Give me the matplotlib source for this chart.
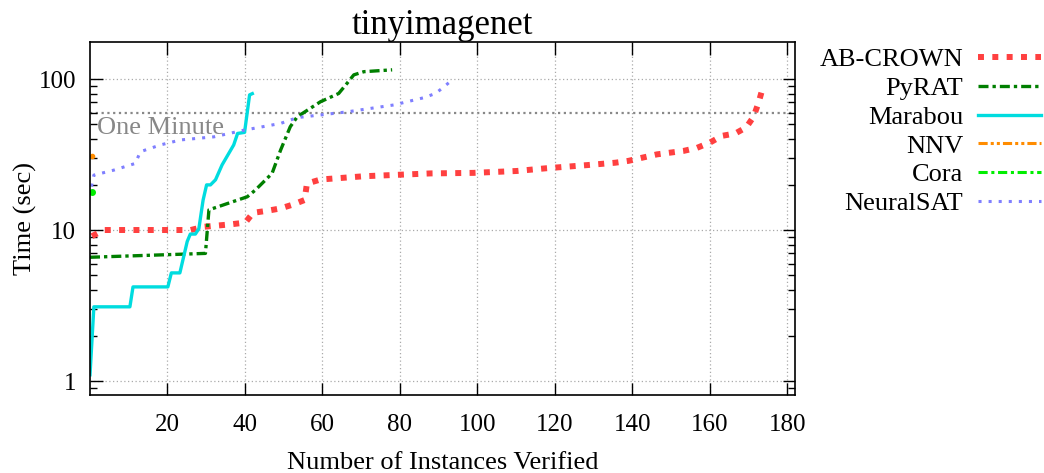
import matplotlib
matplotlib.use("Agg")
import matplotlib.pyplot as plt

plt.rcParams['font.family'] = ['Liberation Serif', 'DejaVu Serif']

# data (instances verified vs. cumulative time)
abcrown_x = [0.5, 3.6, 26, 29.3, 36.3, 40.1, 42.1, 45.7, 49.2, 52.6, 55.4, 56, 59.5, 70.7,
             87.9, 99, 110.2, 117.5, 128.3, 135.6, 139, 142.5, 146.4, 153.2, 156.7, 160.1,
             163.1, 166.6, 169.4, 171.3, 172.6, 173.5]
abcrown_y = [9.1, 10, 10, 10.5, 10.9, 11.2, 13.0, 13.4, 13.9, 14.8, 15.8, 20.3, 21.6, 22.7,
             23.7, 23.9, 24.6, 25.6, 26.9, 27.9, 28.7, 30.1, 31.7, 33.4, 35.0, 38.0,
             42.0, 43.6, 47.8, 56.2, 69.8, 84.3]

pyrat_x = [0, 29.8, 30.7, 40.6, 42.7, 47, 49.2, 51.7, 53.5, 59.5, 64.2, 66.4, 68.1, 70.7, 78]
pyrat_y = [6.6, 7.0, 13.6, 16.6, 18.4, 23.7, 33.8, 48.3, 56.2, 70.7, 80.2, 93.9, 106.5, 111.8, 115]

marabou_x = [0, 1, 10.3, 11.1, 20.1, 21, 23.2, 25.1, 25.9, 27.2, 28.1, 29.2, 30.1, 31.1,
             32.4, 34.1, 37.1, 38.1, 39.9, 41.2, 41.9]
marabou_y = [1.1, 3.1, 3.1, 4.2, 4.2, 5.2, 5.2, 8.4, 9.4, 9.4, 10.2, 15.8, 19.9, 19.9,
             21.5, 27, 36.6, 43.6, 44.3, 78.5, 80]

nnv_x = [0.4]
nnv_y = [30.9]

cora_x = [0.4]
cora_y = [17.9]

neuralsat_x = [0.4, 1, 6.1, 11.7, 13, 18.2, 23.4, 32, 39.7, 49.2, 53.5, 66.4, 78.4,
               86.1, 89.2, 90.9, 93.5]
neuralsat_y = [19.4, 23.1, 24.9, 27.6, 33, 36.6, 39.5, 41.4, 45.8, 50.8, 55.5, 60.6, 67.3,
               75.1, 80.2, 86.8, 98.6]

one_minute = 60

fig = plt.figure(figsize=(10.44, 4.73), dpi=100)
ax = fig.add_axes([90 / 1044, 78 / 473, 705 / 1044, 353 / 473])

ax.plot(abcrown_x, abcrown_y, color='#FF4040', lw=4.3, ls=(0, (1, 1.4)),
        dash_capstyle='butt', label='AB-CROWN')
ax.plot(pyrat_x, pyrat_y, color='#007F00', lw=2.4, ls=(0, (3, 1.2, 1, 1.2)),
        label='PyRAT')
ax.plot(marabou_x, marabou_y, color='#00DCDF', lw=2.4, label='Marabou')
ax.plot(nnv_x, nnv_y, color='#FF8C00', lw=2.2, ls=(0, (3, 1, 1, 1, 1, 1)), label='NNV')
ax.plot(nnv_x, nnv_y, color='#FF8C00', ls='none', marker='o', ms=3)
ax.plot(cora_x, cora_y, color='#00EE00', lw=2.2, ls=(0, (3, 1.2, 1, 1.2)), label='Cora')
ax.plot(cora_x, cora_y, color='#00EE00', ls='none', marker='o', ms=4)
ax.plot(neuralsat_x, neuralsat_y, color='#7F7FFF', lw=2.2, ls=(0, (1, 2.3)),
        dash_capstyle='butt', label='NeuralSAT')

ax.axhline(one_minute, color='#888888', lw=1.6, ls=(0, (1, 1.6)), zorder=1)
ax.text(1.8, 56, 'One Minute', color='#888888', fontsize=19, va='top', ha='left')

ax.set_yscale('log')
ax.set_xlim(0, 182)
ax.set_ylim(0.808, 175.8)
ax.set_xticks([20, 40, 60, 80, 100, 120, 140, 160, 180])
ax.set_yticks([1, 10, 100])
ax.set_yticklabels(['1', '10', '100'])
ax.grid(True, which='major', color='#AAAAAA', ls=(0, (1, 2)), lw=0.9)
ax.tick_params(which='major', direction='in', length=9, width=1, top=True, right=True,
               labelsize=18)
ax.tick_params(which='minor', direction='in', length=5, width=1, top=True, right=True)
ax.tick_params(axis='x', pad=14)
ax.tick_params(axis='y', pad=10)
ax.minorticks_on()
ax.xaxis.set_minor_locator(matplotlib.ticker.NullLocator())
for s in ax.spines.values():
    s.set_linewidth(1.2)

ax.set_title('tinyimagenet', fontsize=25, pad=4)
ax.set_xlabel('Number of Instances Verified', fontsize=19, labelpad=11)
ax.set_ylabel('Time (sec)', fontsize=19, labelpad=1)

handles, labels = ax.get_legend_handles_labels()
fig.legend(handles, labels, loc='upper right', bbox_to_anchor=(1041 / 1044, 1 - 48 / 473),
           frameon=False, markerfirst=False, fontsize=19, handlelength=2.4,
           handletextpad=0.55, labelspacing=0.2, borderpad=0, borderaxespad=0)

fig.savefig('out.png', dpi=100)
